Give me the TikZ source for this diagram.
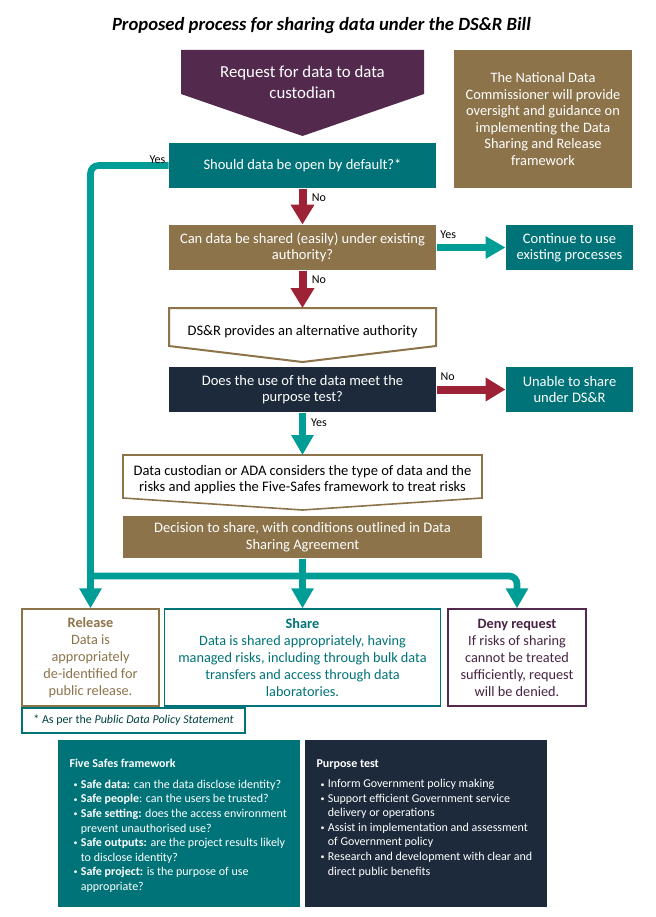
\documentclass[tikz,border=0pt]{standalone}
\usepackage{fontspec}
\setmainfont{Carlito}
\usetikzlibrary{arrows.meta}

\definecolor{dsrteal}{RGB}{0,115,120}
\definecolor{dsrlink}{RGB}{0,156,150}
\definecolor{dsrred}{RGB}{158,34,54}
\definecolor{dsrbrown}{RGB}{140,115,74}
\definecolor{dsrpurple}{RGB}{83,42,77}
\definecolor{dsrnavy}{RGB}{28,42,59}

\newcommand{\pbul}{\hspace*{3pt}\makebox[5.5pt][l]{\raisebox{0.6pt}{\fontsize{6}{6}\selectfont\textbullet}}}
\newcommand{\pind}{\hspace*{8.5pt}}

\tikzset{
	flowbox/.style={inner sep=0pt, align=center, text=white, font=\fontsize{10.9}{12.4}\selectfont},
	lbl/.style={inner sep=1pt, text=black, font=\fontsize{9}{10}\selectfont},
	yesarrow/.style={draw=dsrlink, line width=5pt, -{Triangle[width=16pt,length=15pt]}},
	noarrow/.style={draw=dsrred, line width=6pt, -{Triangle[width=17pt,length=15pt]}},
	outcome/.style={draw, line width=1.1pt, fill=white, inner sep=0pt, align=center, minimum height=72.75pt, font=\fontsize{10.7}{12.75}\selectfont},
	panel/.style={inner sep=0pt, minimum width=181.5pt, minimum height=125.25pt},
	paneltext/.style={inner sep=0pt, align=left, text=white, font=\fontsize{9}{10.9}\selectfont}}
\tikzset{every picture/.style={line width=0.75pt}}

\begin{document}
\begin{tikzpicture}[x=0.75pt,y=0.75pt,yscale=-1,xscale=1]
	\path[use as bounding box] (0,0) rectangle (656,917);

	% Title
	\node[font=\bfseries\itshape\fontsize{14}{16}\selectfont] (title) at (321.5,26) {Proposed process for sharing data under the DS\&R Bill};

	%Shape: request pentagon
	\fill[dsrpurple] (181,50) -- (424,50) -- (424,94) -- (302.5,136) -- (181,94) -- cycle ;
	\node[flowbox, font=\fontsize{12.6}{15.5}\selectfont] (request) at (302.5,82.5) {Request for data to data\\custodian};

	%Shape: commissioner box
	\node[flowbox, fill=dsrbrown, font=\fontsize{10.8}{12.4}\selectfont, minimum width=133.5pt, minimum height=103.5pt] (ndc) at (543,119) {The National Data\\Commissioner will provide\\oversight and guidance on\\implementing the Data\\Sharing and Release\\framework};

	% Questions
	\node[flowbox, fill=dsrteal, minimum width=200.25pt, minimum height=33.75pt] (should) at (302.5,165.5) {Should data be open by default?*};
	\node[flowbox, fill=dsrbrown, minimum width=200.25pt, minimum height=33.75pt] (can) at (302.5,247.5) {Can data be shared (easily) under existing\\authority?};
	\node[flowbox, fill=dsrteal, minimum width=95.25pt, minimum height=33.75pt] (cont) at (569.5,247.5) {Continue to use\\existing processes};

	%Shape: alternative authority pentagon
	\coordinate (dsr top) at (302.5,308);
	\filldraw[draw=dsrbrown, fill=white, line width=1.5pt] (169,308) -- (436,308) -- (436,346) -- (302.5,362) -- (169,346) -- cycle ;
	\node[flowbox, text=black] (dsr) at (302.5,332) {DS\&R provides an alternative authority};

	\node[flowbox, fill=dsrnavy, minimum width=200.25pt, minimum height=33.75pt] (purpose) at (302.5,389.5) {Does the use of the data meet the\\purpose test?};
	\node[flowbox, fill=dsrteal, minimum width=95.25pt, minimum height=33.75pt] (unable) at (569.5,389.5) {Unable to share\\under DS\&R};

	%Shape: custodian pentagon
	\coordinate (custodian top) at (302.5,455);
	\filldraw[draw=dsrbrown, fill=white, line width=1.2pt] (123,455) -- (482,455) -- (482,498) -- (302.5,510) -- (123,498) -- cycle ;
	\node[flowbox, text=black] (custodian) at (302.5,479.5) {Data custodian or ADA considers the type of data and the\\risks and applies the Five-Safes framework to treat risks};

	\node[flowbox, fill=dsrbrown, minimum width=269.25pt, minimum height=31.5pt] (decision) at (302.5,537) {Decision to share, with conditions outlined in Data\\Sharing Agreement};

	% Outcomes
	\node[outcome, draw=dsrbrown, text=dsrbrown, minimum width=102.75pt] (release) at (90.5,657.5) {\textbf{Release}\\Data is\\appropriately\\de-identified for\\public release.};
	\node[outcome, draw=dsrteal, text=dsrteal, minimum width=207pt] (share) at (302.5,657.5) {\textbf{Share}\\Data is shared appropriately, having\\managed risks, including through bulk data\\transfers and access through data\\laboratories.};
	\node[outcome, draw=dsrpurple, text=dsrpurple!85!black, minimum width=103.5pt] (deny) at (517,657.5) {\textbf{Deny request}\\If risks of sharing\\cannot be treated\\sufficiently, request\\will be denied.};
	\node[draw=dsrteal, line width=0.9pt, inner sep=0pt, minimum width=167.25pt, minimum height=18.75pt, text=dsrteal!55!black, font=\fontsize{9}{10.8}\selectfont] (note) at (133.5,720.5) {* As per the \textit{Public Data Policy Statement}};

	% Panels
	\node[panel, fill=dsrteal] (safes) at (179,823.5) {};
	\node[paneltext, anchor=north west] (safes text) at (69,759) {\textbf{Five Safes framework}\\[4.5pt]
		\pbul\textbf{Safe data:} can the data disclose identity?\\
		\pbul\textbf{Safe people}: can the users be trusted?\\
		\pbul\textbf{Safe setting:} does the access environment\\
		\pind prevent unauthorised use?\\
		\pbul\textbf{Safe outputs:} are the project results likely\\
		\pind to disclose identity?\\
		\pbul\textbf{Safe project:} is the purpose of use\\
		\pind appropriate?};
	\node[panel, fill=dsrnavy] (tests) at (426,823.5) {};
	\node[paneltext, anchor=north west] (tests text) at (316,759) {\textbf{Purpose test}\\[4.5pt]
		\pbul Inform Government policy making\\
		\pbul Support efficient Government service\\
		\pind delivery or operations\\
		\pbul Assist in implementation and assessment\\
		\pind of Government policy\\
		\pbul Research and development with clear and\\
		\pind direct public benefits};

	% Connectors
	\coordinate (rail west) at (90.5,576);
	\draw[yesarrow, rounded corners=6pt] (should.west) -| (release.north);
	\node[lbl, anchor=south east] (yes open) at ([xshift=-1pt]should.west) {Yes};
	\draw[noarrow] (should.south) -- node[lbl, pos=0.25, right=3pt] (no open) {No} (can.north);
	\draw[yesarrow] (can.east) -- node[lbl, pos=0.17, above=3pt] (yes can) {Yes} (cont.west);
	\draw[noarrow] (can.south) -- node[lbl, pos=0.25, right=3pt] (no can) {No} (dsr top);
	\draw[noarrow] (purpose.east) -- node[lbl, pos=0.16, above=3pt] (no purpose) {No} (unable.west);
	\draw[yesarrow] (purpose.south) -- node[lbl, pos=0.25, right=3pt] (yes purpose) {Yes} (custodian top);
	\draw[yesarrow] (decision.south) -- (share.north);
	\draw[yesarrow, rounded corners=6pt] (rail west) -| (deny.north);

\end{tikzpicture}
\end{document}
